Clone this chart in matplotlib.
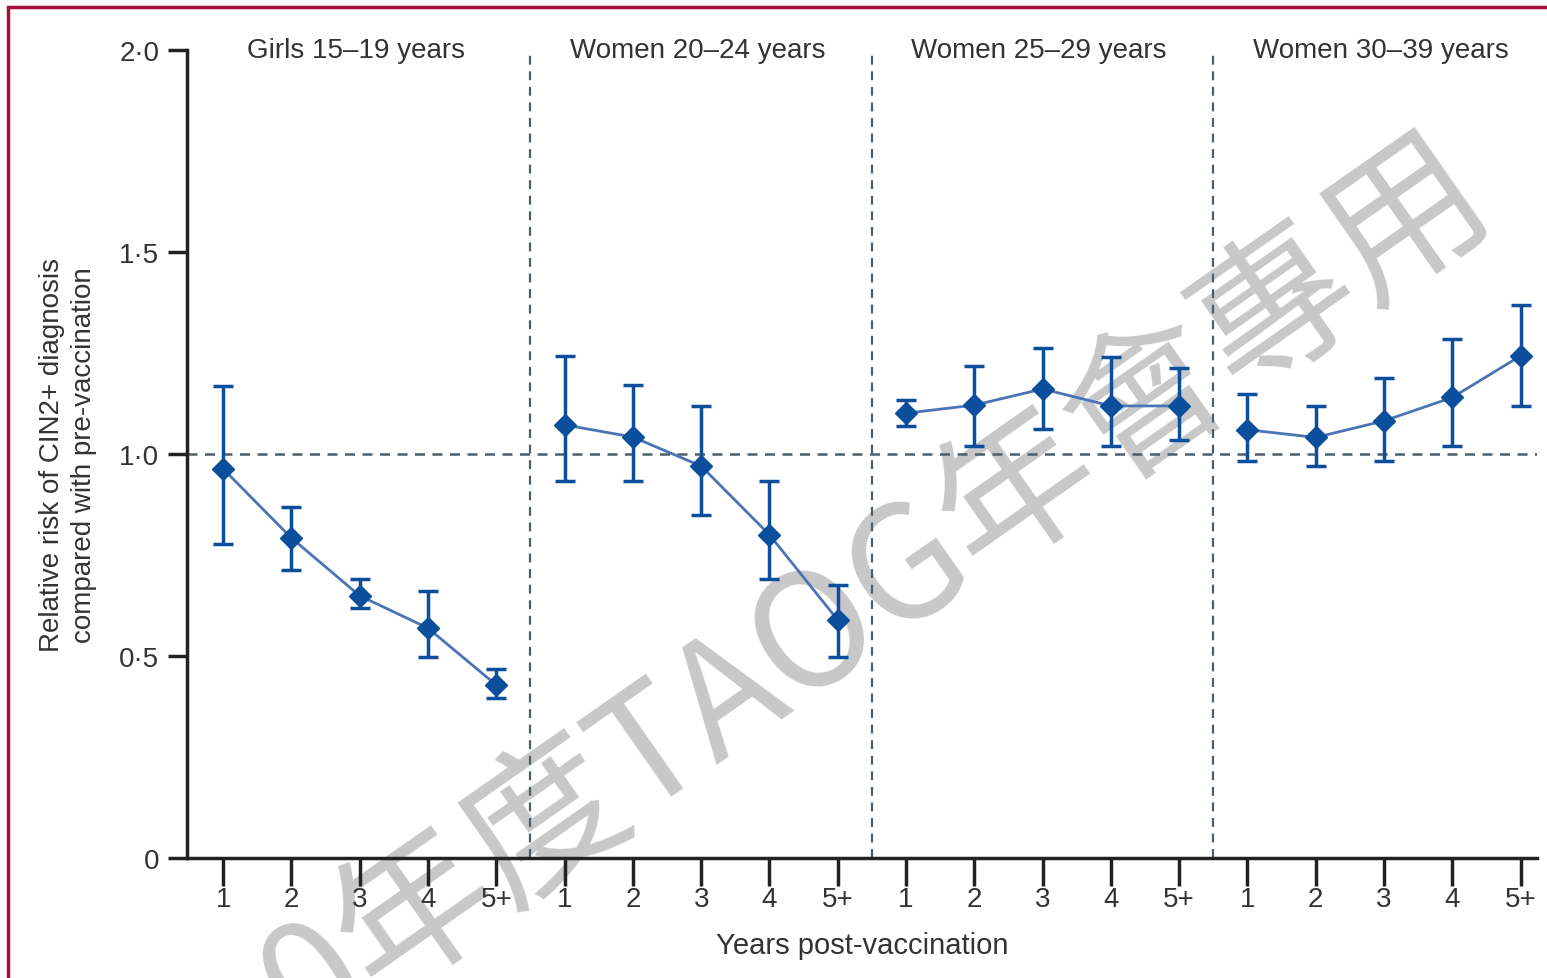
import numpy as np
import matplotlib
matplotlib.use('Agg')
import matplotlib.pyplot as plt
from matplotlib.patches import Rectangle

# Datos
grupos = ['Girls 15–19 years', 'Women 20–24 years', 'Women 25–29 years', 'Women 30–39 years']
anios = ['1', '2', '3', '4', '5+']
rr = [
    [0.963, 0.792, 0.649, 0.569, 0.428],
    [1.072, 1.042, 0.970, 0.800, 0.589],
    [1.101, 1.121, 1.161, 1.119, 1.119],
    [1.060, 1.041, 1.082, 1.140, 1.243],
]
ic_sup = [
    [1.168, 0.869, 0.691, 0.661, 0.468],
    [1.243, 1.171, 1.119, 0.933, 0.676],
    [1.134, 1.219, 1.262, 1.239, 1.213],
    [1.148, 1.118, 1.189, 1.284, 1.369],
]
ic_inf = [
    [0.777, 0.713, 0.619, 0.498, 0.396],
    [0.933, 0.933, 0.849, 0.691, 0.498],
    [1.069, 1.020, 1.062, 1.020, 1.035],
    [0.982, 0.970, 0.982, 1.020, 1.118],
]
yticks = [0, 0.5, 1.0, 1.5, 2.0]
yticklabels = ['0', '0·5', '1·0', '1·5', '2·0']

plt.rcParams['font.family'] = ['Liberation Sans', 'DejaVu Sans']

azul = '#0b4f9c'
gris_texto = '#333333'
gris_linea = '#4d5e6b'

fig = plt.figure(figsize=(15.47, 9.79), dpi=100)
ax = fig.add_axes([187 / 1547, 1 - 859 / 979, (1537 - 187) / 1547, (859 - 51) / 979])
ax.set_zorder(2)

n = len(anios)
for g in range(len(grupos)):
    x = np.arange(n) + 1 + g * n
    y = np.array(rr[g])
    err = [y - np.array(ic_inf[g]), np.array(ic_sup[g]) - y]
    ax.plot(x, y, color='#4a74b5', lw=2, zorder=3)
    ax.errorbar(x, y, yerr=err, fmt='D', color=azul, ms=11, ecolor=azul,
                elinewidth=2.5, capsize=7, capthick=2.5, zorder=4)
    ax.text(x.mean() - 0.05, 2.0, grupos[g], ha='center', va='center',
            fontsize=20, color=gris_texto)
    if g > 0:
        ax.axvline(g * n + 0.5, color=gris_linea, ls=(0, (4, 3)), lw=1.6, zorder=2)

ax.axhline(1.0, color=gris_linea, ls=(0, (4, 3)), lw=1.8, zorder=2)

ax.set_xlim(0.47, 20.24)
ax.set_ylim(0, 2.0)
ax.set_xticks(np.arange(1, n * len(grupos) + 1))
ax.set_xticklabels(anios * len(grupos))
ax.set_yticks(yticks)
ax.set_yticklabels(yticklabels)
for s in ['top', 'right']:
    ax.spines[s].set_visible(False)
for s in ['left', 'bottom']:
    ax.spines[s].set_linewidth(2.5)
    ax.spines[s].set_color('#222222')
ax.tick_params(axis='both', width=2.5, color='#222222', labelsize=20, labelcolor=gris_texto)
ax.tick_params(axis='y', length=14, pad=6)
ax.tick_params(axis='x', length=20, pad=0)
ax.set_xlabel('Years post-vaccination', fontsize=21, color=gris_texto, labelpad=14)
ax.set_ylabel('Relative risk of CIN2+ diagnosis\ncompared with pre-vaccination',
              fontsize=20, color=gris_texto, linespacing=1.3)
ax.yaxis.set_label_coords(-0.067, 0.5)
ax.set_facecolor('none')

# Marca de agua (detrás del gráfico)
fig.text(0.567, 0.395, '0年度TAOG年會專用', rotation=35, ha='center', va='center',
         fontsize=114, color='#c8c8c8', family=['Noto Sans CJK TC', 'DejaVu Sans'],
         zorder=0.5)

# Marco
fig.patches.append(Rectangle((8 / 1547, -0.1), 1.2, 1 - 8 / 979 + 0.1,
                             transform=fig.transFigure, fill=False,
                             edgecolor='#a8103c', lw=2.5))

fig.savefig('out.png', dpi=100)
